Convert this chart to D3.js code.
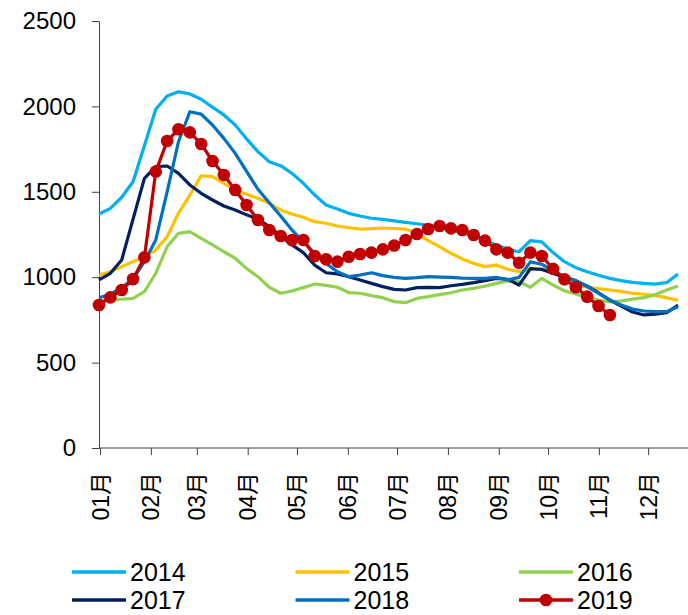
<!DOCTYPE html>
<html>
<head>
<meta charset="utf-8">
<script src="https://cdn.jsdelivr.net/npm/d3@7"></script>
<style>
  body { margin: 0; background: #fff; }
  text { font-family: "Liberation Sans", Arial, "Noto Sans CJK SC", sans-serif; }
</style>
</head>
<body>
<div id="chart1"></div>
<script>
// DATA (weekly values, one entry per week starting at January)
const years = ["2014", "2015", "2016", "2017", "2018", "2019"];
const colors = ["#00B0F0", "#FFC000", "#92D050", "#002060", "#0070C0", "#C00000"];
const monthLabels = ["01月", "02月", "03月", "04月", "05月", "06月", "07月", "08月", "09月", "10月", "11月", "12月"];
const monthStartDays = [0, 31, 59, 90, 120, 151, 181, 212, 243, 273, 304, 334];
const yTicks = [0, 500, 1000, 1500, 2000, 2500];

const v2014 = [1370, 1403, 1468, 1559, 1770, 1983, 2061, 2086, 2073, 2042, 1995, 1950, 1891, 1810, 1735, 1676, 1653, 1608, 1550, 1481, 1423, 1399, 1374, 1358, 1345, 1339, 1330, 1321, 1313, 1304, 1292, 1276, 1261, 1241, 1218, 1188, 1163, 1149, 1214, 1207, 1144, 1091, 1056, 1032, 1011, 993, 980, 970, 964, 960, 968, 1019];
const v2015 = [1013, 1032, 1061, 1091, 1120, 1159, 1237, 1374, 1481, 1594, 1589, 1550, 1511, 1485, 1462, 1433, 1393, 1370, 1351, 1325, 1316, 1300, 1290, 1282, 1284, 1288, 1285, 1282, 1257, 1214, 1179, 1140, 1107, 1081, 1062, 1071, 1046, 1032, 1047, 1052, 1032, 993, 954, 941, 933, 925, 917, 906, 900, 892, 880, 866];
const v2016 = [865, 866, 871, 876, 915, 1023, 1179, 1257, 1267, 1228, 1189, 1149, 1111, 1050, 1003, 941, 906, 919, 939, 960, 952, 941, 910, 906, 892, 880, 857, 851, 876, 886, 898, 909, 925, 935, 948, 964, 978, 974, 941, 993, 954, 921, 902, 882, 866, 855, 861, 872, 880, 898, 925, 948];
const v2017 = [984, 1023, 1101, 1340, 1579, 1647, 1651, 1608, 1540, 1491, 1452, 1417, 1393, 1365, 1340, 1296, 1241, 1189, 1144, 1071, 1026, 1019, 1003, 984, 964, 945, 929, 925, 939, 941, 939, 950, 958, 968, 980, 993, 988, 954, 1050, 1045, 1023, 999, 980, 948, 909, 866, 831, 796, 779, 783, 792, 837];
const v2018 = [880, 900, 940, 990, 1091, 1218, 1500, 1793, 1969, 1955, 1891, 1813, 1725, 1620, 1515, 1436, 1358, 1276, 1208, 1140, 1081, 1032, 1003, 1013, 1026, 1009, 999, 993, 997, 1003, 1001, 999, 995, 993, 993, 999, 984, 999, 1090, 1076, 1038, 1003, 978, 945, 906, 866, 837, 814, 802, 798, 798, 827];
const v2019 = [837, 882, 925, 989, 1116, 1618, 1797, 1866, 1848, 1780, 1680, 1598, 1511, 1423, 1335, 1276, 1241, 1218, 1218, 1124, 1105, 1091, 1120, 1136, 1144, 1163, 1186, 1218, 1253, 1282, 1300, 1286, 1276, 1247, 1214, 1163, 1144, 1085, 1144, 1124, 1049, 988, 941, 886, 831, 779];

const series = [v2014, v2015, v2016, v2017, v2018, v2019].map((vals, i) => ({
  key: years[i],
  color: colors[i],
  values: vals.map((v, w) => ({ week: w, value: v }))
}));

// SVG
const W = 688, H = 615;
const svg = d3.select("#chart1").append("svg")
  .attr("width", W)
  .attr("height", H);

// SCALES
const xWeek = d3.scaleLinear().domain([0, 51]).range([99, 678]);
const xDay = d3.scaleLinear().domain([0, 365]).range([100, 699]);
const ys = d3.scaleLinear().domain([0, 2500]).range([448, 21]);

// Y AXIS
const yAxis = svg.append("g")
  .attr("transform", "translate(99,0)")
  .call(d3.axisLeft(ys).tickValues(yTicks).tickFormat(d3.format("d")).tickSize(7).tickPadding(16).tickSizeOuter(0));
yAxis.selectAll("text").style("font-size", "24px").attr("fill", "#000");
yAxis.selectAll("line, path").attr("stroke", "#404040");

// X AXIS
const xAxis = svg.append("g")
  .attr("transform", "translate(0,448)")
  .call(d3.axisBottom(xDay).tickValues(monthStartDays).tickFormat((d, i) => monthLabels[i]).tickSize(7).tickSizeOuter(0));
xAxis.select(".domain").attr("d", "M99,0H688");
xAxis.selectAll("line, path").attr("stroke", "#404040");
xAxis.selectAll("text")
  .attr("transform", "rotate(-90)")
  .attr("x", -24)
  .attr("y", 0)
  .attr("dy", "0.35em")
  .style("text-anchor", "end")
  .style("font-size", "23px")
  .attr("fill", "#000");

// LINES
const line = d3.line()
  .x(d => xWeek(d.week))
  .y(d => ys(d.value));

svg.selectAll(".line")
  .data(series)
  .enter()
  .append("path")
  .attr("class", "line")
  .attr("fill", "none")
  .attr("stroke", d => d.color)
  .attr("stroke-width", 3.2)
  .attr("stroke-linejoin", "round")
  .attr("d", d => line(d.values));

// 2019 markers
svg.selectAll(".dot")
  .data(series[5].values)
  .enter()
  .append("circle")
  .attr("class", "dot")
  .attr("cx", d => xWeek(d.week))
  .attr("cy", d => ys(d.value))
  .attr("r", 6.3)
  .attr("fill", colors[5]);

// LEGEND
const legend = svg.selectAll("g.legend")
  .data(series)
  .enter()
  .append("g")
  .attr("class", "legend")
  .attr("transform", (d, i) => `translate(${72 + (i % 3) * 223.5},${572 + Math.floor(i / 3) * 28})`);

legend.append("line")
  .attr("x1", 0).attr("x2", 54)
  .attr("y1", 0).attr("y2", 0)
  .attr("stroke", d => d.color)
  .attr("stroke-width", 3.5);

legend.filter(d => d.key === "2019").append("circle")
  .attr("cx", 27).attr("cy", 0).attr("r", 6.3)
  .attr("fill", colors[5]);

legend.append("text")
  .attr("x", 58)
  .attr("y", 0)
  .attr("dy", "0.36em")
  .style("font-size", "25px")
  .text(d => d.key);
</script>
</body>
</html>
